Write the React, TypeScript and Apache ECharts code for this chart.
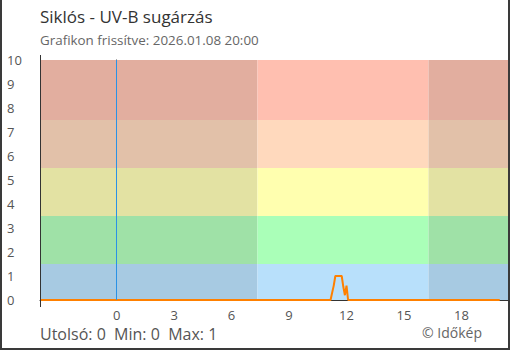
import React, { useEffect, useRef } from "react";
import * as echarts from "echarts";

const titleText = "Siklós - UV-B sugárzás";
const subtitleText = "Grafikon frissítve: 2026.01.08 20:00";
const footerText = "Utolsó: 0  Min: 0  Max: 1";
const creditText = "© Időkép";

// hours relative to midnight
const xMin = -4;
const xMax = 20.43;
const xTicks = [0, 3, 6, 9, 12, 15, 18];
const yTicks = [0, 1, 2, 3, 4, 5, 6, 7, 8, 9, 10];
const sunrise = 7.35;
const sunset = 16.28;
const nowLine = 0;

// UV-B series (time in hours, value)
const uvTimes = [-4, 11.1667, 11.25, 11.3333, 11.4167, 11.5, 11.5833, 11.6667, 11.75, 11.8333, 11.9167, 12.0, 12.0833, 20];
const uvValues = [0, 0, 0.3, 0.6, 1, 1, 1, 1, 1, 0.55, 0.2, 0.6, 0, 0];

// UV bands
const bandLimits = [0, 1.5, 3.5, 5.5, 7.5, 10];
const bandNight = ["#a7cae2", "#9fe1a7", "#e3e2a3", "#e2c1a9", "#e2ae9f"];
const bandDay = ["#b8e0fb", "#aaffb8", "#ffffaf", "#ffd9bd", "#ffbfb0"];

export default function App() {
  const ref = useRef<HTMLDivElement>(null);
  useEffect(() => {
    if (!ref.current) return;
    const chart = echarts.init(ref.current, null, { renderer: "svg" });
    const areas: any[] = [];
    for (let i = 0; i < bandNight.length; i++) {
      const lo = bandLimits[i];
      const hi = bandLimits[i + 1];
      areas.push([
        { xAxis: xMin, yAxis: lo, itemStyle: { color: bandNight[i] } },
        { xAxis: sunrise, yAxis: hi },
      ]);
      areas.push([
        { xAxis: sunrise, yAxis: lo, itemStyle: { color: bandDay[i] } },
        { xAxis: sunset, yAxis: hi },
      ]);
      areas.push([
        { xAxis: sunset, yAxis: lo, itemStyle: { color: bandNight[i] } },
        { xAxis: xMax, yAxis: hi },
      ]);
    }
    const font = "'Open Sans', sans-serif";
    chart.setOption({
      animation: false,
      textStyle: { fontFamily: font },
      grid: { left: 40, right: 2, top: 60, bottom: 50, containLabel: false },
      xAxis: {
        type: "value",
        min: xMin,
        max: xMax,
        axisLine: { show: true, lineStyle: { color: "#333", width: 1 } },
        axisTick: { show: true, inside: true, length: 6, customValues: xTicks, lineStyle: { color: "#333" } },
        axisLabel: { customValues: xTicks, color: "#555", fontSize: 13, margin: 8, fontFamily: font, lineHeight: 14 },
        splitLine: { show: false },
      },
      yAxis: {
        type: "value",
        min: 0,
        max: 10,
        interval: 1,
        axisLine: { show: true, lineStyle: { color: "#333", width: 1 } },
        axisTick: { show: true, length: 6, lineStyle: { color: "#333" } },
        axisLabel: { color: "#555", fontSize: 13, align: "left", margin: 33, fontFamily: font,
          customValues: yTicks },
        splitLine: { show: false },
      },
      graphic: [
        { type: "text", left: 40, top: 8, style: { text: titleText, fill: "#333", font: "17px 'Open Sans', sans-serif" } },
        { type: "text", left: 40, top: 33, style: { text: subtitleText, fill: "#666", font: "13.4px 'Open Sans', sans-serif" } },
        { type: "text", left: 40, top: 325, style: { text: footerText, fill: "#555", font: "16px 'Open Sans', sans-serif", lineHeight: 18 } },
        { type: "text", right: 28, top: 324, style: { text: creditText, fill: "#666", font: "14px 'Open Sans', sans-serif", lineHeight: 16 } },
        { type: "line", shape: { x1: 40.5, y1: 55, x2: 40.5, y2: 307 }, style: { stroke: "#333", lineWidth: 1 }, z: 5 },
        { type: "rect", shape: { x: 0, y: 0, width: 2, height: 350 }, style: { fill: "#3a3a3a" } },
        { type: "rect", shape: { x: 508, y: 0, width: 2, height: 350 }, style: { fill: "#3a3a3a" } },
        { type: "rect", shape: { x: 0, y: 348, width: 510, height: 2 }, style: { fill: "#3a3a3a" } },
      ],
      series: [
        {
          type: "line",
          data: [],
          silent: true,
          markArea: { silent: true, data: areas },
        },
        {
          type: "line",
          data: uvTimes.map((t, i) => [t, uvValues[i]]),
          showSymbol: false,
          symbol: "none",
          lineStyle: { color: "#ff8000", width: 2 },
          z: 4,
          markLine: {
            silent: true,
            symbol: "none",
            label: { show: false },
            lineStyle: { color: "#2a92e6", width: 1, type: "solid" },
            data: [{ xAxis: nowLine }],
          },
        },
      ],
    });
    return () => chart.dispose();
  }, []);
  return (
    <div
      ref={ref}
      style={{ position: "absolute", left: 0, top: 0, width: 510, height: 350, background: "#fff" }}
    />
  );
}
